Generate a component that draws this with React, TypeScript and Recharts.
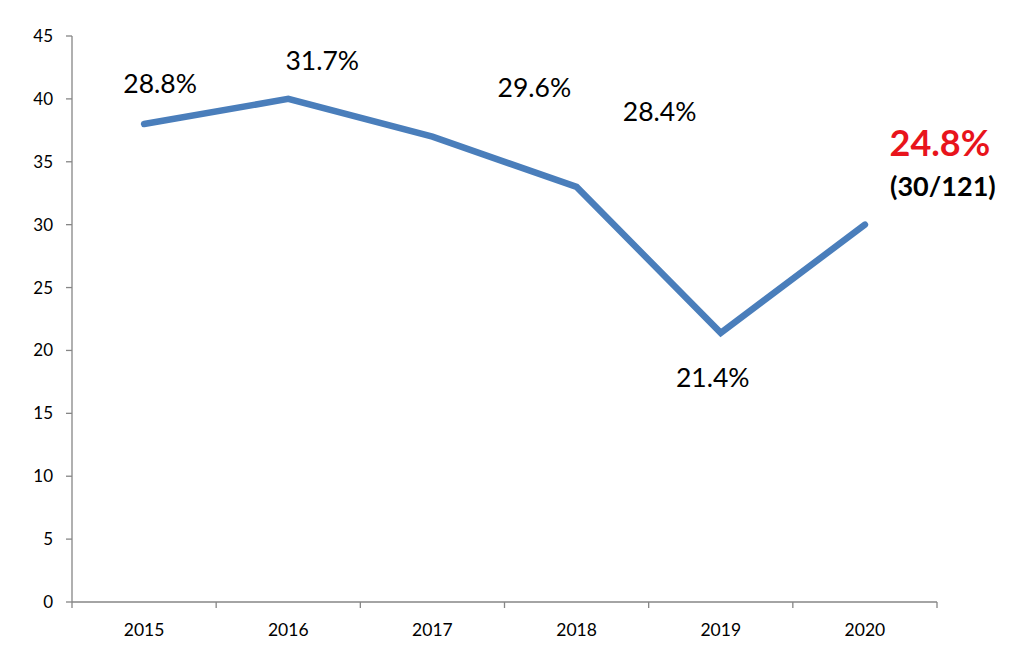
import React from "react";
import { LineChart, Line, XAxis, YAxis, LabelList } from "recharts";

const years = ["2015", "2016", "2017", "2018", "2019", "2020"];
const counts = [38, 40, 37, 33, 21.4, 30];
const rates = ["28.8%", "31.7%", "29.6%", "28.4%", "21.4%", "24.8%"];
const lastNote = "(30/121)";
const yTicks = [0, 5, 10, 15, 20, 25, 30, 35, 40, 45];

const data = years.map((year, i) => ({ year, count: counts[i], rate: rates[i] }));

// label placement offsets (relative to each point), style only
const labelOffsets = [
  [16, -41],
  [34, -39],
  [102, -50],
  [83, -76],
  [-8, 44],
  [75, -83],
];

const FONT = "Lato, 'Open Sans', sans-serif";
const AXIS = "#868686";

const XTick = (props: any) => {
  const { x, y, payload, index, visibleTicksCount } = props;
  const half = payload.offset || 72;
  const axisY = y - 8;
  return (
    <g>
      <line x1={x - half} y1={axisY} x2={x - half} y2={axisY + 6} stroke={AXIS} strokeWidth={1.3} />
      {index === visibleTicksCount - 1 && (
        <line x1={x + half} y1={axisY} x2={x + half} y2={axisY + 6} stroke={AXIS} strokeWidth={1.3} />
      )}
      <text x={x} y={axisY + 27} textAnchor="middle" dominantBaseline="central" fontFamily={FONT} fontSize={17.5} fill="#000">
        {payload.value}
      </text>
    </g>
  );
};

const RateLabel = (props: any) => {
  const { x, y, value, index } = props;
  const [dx, dy] = labelOffsets[index];
  const last = index === rates.length - 1;
  return (
    <g>
      <text
        x={x + dx}
        y={y + dy}
        textAnchor="middle"
        dominantBaseline="central"
        fontFamily={FONT}
        fontSize={last ? 36 : 26.5}
        fontWeight={last ? 700 : 400}
        fill={last ? "#E8141C" : "#000"}
      >
        {value}
      </text>
      {last && (
        <text x={x + 78} y={y - 39} textAnchor="middle" dominantBaseline="central" fontFamily={FONT} fontSize={27} fontWeight={700} fill="#000">
          {lastNote}
        </text>
      )}
    </g>
  );
};

export default function App() {
  return (
    <div style={{ position: "absolute", left: 0, top: 0, background: "#fff" }}>
      <LineChart width={1018} height={665} data={data} margin={{ top: 36, right: 81, bottom: 0, left: 0 }}>
        <XAxis
          dataKey="year"
          scale="band"
          axisLine={{ stroke: AXIS, strokeWidth: 1.3 }}
          tickLine={false}
          tick={<XTick />}
          interval={0}
          height={63}
        />
        <YAxis
          domain={[0, 45]}
          ticks={yTicks}
          width={72}
          axisLine={{ stroke: AXIS, strokeWidth: 1.3 }}
          tickLine={{ stroke: AXIS, strokeWidth: 1.3 }}
          tickSize={6}
          tickMargin={13}
          tick={{ fontFamily: FONT, fontSize: 17, fill: "#000" }}
          interval={0}
        />
        <Line
          dataKey="count"
          stroke="#4A7EBB"
          strokeWidth={6.5}
          strokeLinecap="round"
          dot={false}
          activeDot={false}
          isAnimationActive={false}
        >
          <LabelList dataKey="rate" content={<RateLabel />} />
        </Line>
      </LineChart>
    </div>
  );
}
